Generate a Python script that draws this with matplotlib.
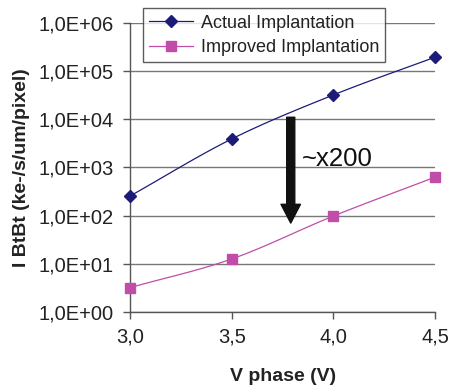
import numpy as np
import matplotlib
matplotlib.use("Agg")
import matplotlib.pyplot as plt
from matplotlib.ticker import FixedLocator, FixedFormatter, NullLocator
from matplotlib.lines import Line2D

plt.rcParams['font.family'] = ['Liberation Sans', 'DejaVu Sans']

v_phase = [3.0, 3.5, 4.0, 4.5]
actual = [255, 3900, 32000, 195000]
improved = [3.2, 12.6, 98, 630]
series_names = ["Actual Implantation", "Improved Implantation"]
ytick_vals = [1e0, 1e1, 1e2, 1e3, 1e4, 1e5, 1e6]
ytick_labels = ["1,0E+00", "1,0E+01", "1,0E+02", "1,0E+03", "1,0E+04", "1,0E+05", "1,0E+06"]
xtick_vals = [3.0, 3.5, 4.0, 4.5]
xtick_labels = ["3,0", "3,5", "4,0", "4,5"]
annot_text = "~x200"


def smooth(x, y, n=30):
    # Catmull-Rom spline through data points (y in log space)
    x = np.asarray(x, float)
    y = np.log10(np.asarray(y, float))
    px = np.concatenate([[2 * x[0] - x[1]], x, [2 * x[-1] - x[-2]]])
    py = np.concatenate([[2 * y[0] - y[1]], y, [2 * y[-1] - y[-2]]])
    xs, ys = [], []
    t = np.linspace(0, 1, n)
    for i in range(1, len(px) - 2):
        for arr, out in ((px, xs), (py, ys)):
            p0, p1, p2, p3 = arr[i - 1], arr[i], arr[i + 1], arr[i + 2]
            out.extend(0.5 * ((2 * p1) + (-p0 + p2) * t + (2 * p0 - 5 * p1 + 4 * p2 - p3) * t ** 2
                              + (-p0 + 3 * p1 - 3 * p2 + p3) * t ** 3))
    return np.array(xs), 10 ** np.array(ys)


fig = plt.figure(figsize=(4.5, 3.88), dpi=100)
ax = fig.add_axes([0.289, 0.196, 0.678, 0.745])

c_act = '#1c1c78'
c_imp = '#c04ea8'

sx, sy = smooth(v_phase, actual)
ax.plot(sx, sy, color=c_act, lw=0.9, zorder=3, clip_on=False)
ax.plot(v_phase, actual, linestyle='none', marker='D', ms=6, color=c_act, zorder=4, clip_on=False)
sx, sy = smooth(v_phase, improved)
ax.plot(sx, sy, color=c_imp, lw=0.9, zorder=3, clip_on=False)
ax.plot(v_phase, improved, linestyle='none', marker='s', ms=6.5, color=c_imp, zorder=4, clip_on=False)

ax.set_yscale('log')
ax.set_ylim(1, 1e6)
ax.set_xlim(3.0, 4.5)
ax.yaxis.set_major_locator(FixedLocator(ytick_vals))
ax.yaxis.set_major_formatter(FixedFormatter(ytick_labels))
ax.yaxis.set_minor_locator(NullLocator())
ax.xaxis.set_major_locator(FixedLocator(xtick_vals))
ax.xaxis.set_major_formatter(FixedFormatter(xtick_labels))
ax.tick_params(axis='both', direction='out', length=5, width=1, color='#555555',
               labelsize=14.5, labelcolor='#222222')
ax.tick_params(axis='y', pad=7)
ax.tick_params(axis='x', pad=6.5)
ax.grid(axis='y', color='#777777', lw=1)
ax.set_axisbelow(True)
for s in ['top', 'right']:
    ax.spines[s].set_visible(False)
for s in ['left', 'bottom']:
    ax.spines[s].set_color('#555555')
    ax.spines[s].set_linewidth(1)

ax.set_xlabel("V phase (V)", fontsize=14, fontweight='bold', color='#222222', labelpad=15)
ax.set_ylabel("I BtBt (ke-/s/um/pixel)", fontsize=14, fontweight='bold', color='#222222', labelpad=6)

# arrow
ax.annotate('', xy=(3.79, 70), xytext=(3.79, 1.1e4),
            arrowprops=dict(width=5.8, headwidth=14, headlength=13.5, color='#111111', shrink=0))
ax.text(3.845, 1.5e3, annot_text, fontsize=18.5, color='#111111', va='center', ha='left')

handles = [Line2D([], [], color=c_act, marker='D', ms=6, lw=0.9),
           Line2D([], [], color=c_imp, marker='s', ms=6.5, lw=0.9)]
leg = ax.legend(handles, series_names, loc='upper left', bbox_to_anchor=(0.042, 1.05),
                fontsize=13, frameon=True, fancybox=False, edgecolor='#333333',
                handlelength=2.4, handletextpad=0.45, borderpad=0.35, labelspacing=0.4,
                borderaxespad=0)
leg.get_frame().set_linewidth(1)
leg.set_zorder(5)
for t in leg.get_texts():
    t.set_color('#222222')

fig.savefig('out.png', dpi=100)
